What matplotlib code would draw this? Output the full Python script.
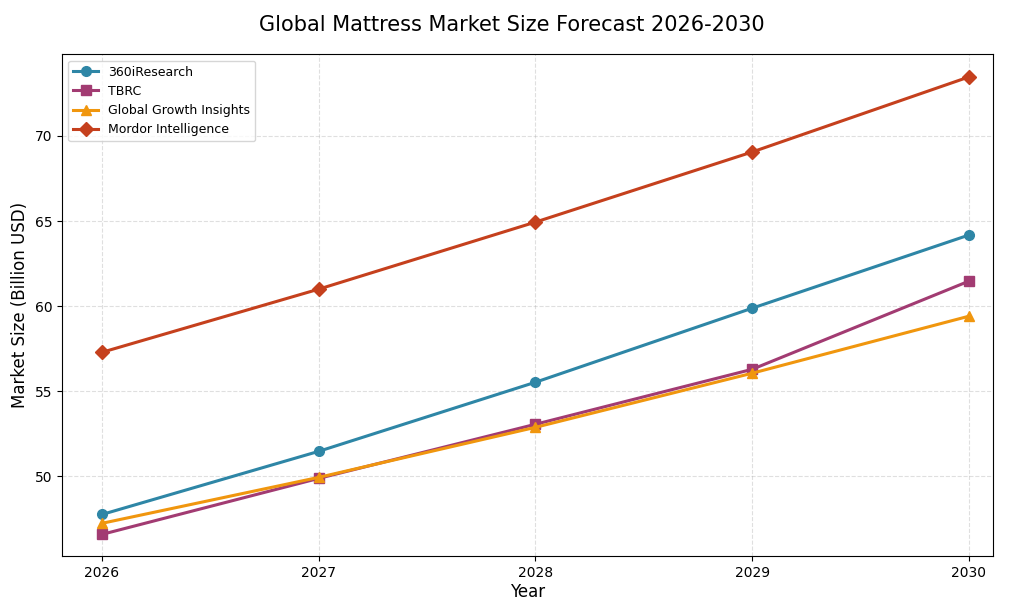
import matplotlib
matplotlib.use("Agg")
import matplotlib.pyplot as plt

years = [2026, 2027, 2028, 2029, 2030]
r360 = [47.76, 51.47, 55.53, 59.88, 64.18]
tbrc = [46.59, 49.88, 53.06, 56.29, 61.47]
ggi = [47.24, 49.94, 52.88, 56.06, 59.41]
mordor = [57.29, 61.0, 64.94, 69.06, 73.47]

fig = plt.figure(figsize=(10.24, 6.10), dpi=100)
ax = fig.add_axes([0.0605, 0.088, 0.909, 0.823])
ax.plot(years, r360, marker='o', color='#2e86a6', lw=2.2, ms=7, label='360iResearch')
ax.plot(years, tbrc, marker='s', color='#a23b72', lw=2.2, ms=7, label='TBRC')
ax.plot(years, ggi, marker='^', color='#f0960e', lw=2.2, ms=7, label='Global Growth Insights')
ax.plot(years, mordor, marker='D', color='#c5401d', lw=2.2, ms=7, label='Mordor Intelligence')
ax.set_xticks(years)
ax.set_xlim(2025.815, 2030.11)
ax.set_ylim(45.3, 74.8)
ax.set_yticks([50, 55, 60, 65, 70])
ax.grid(True, linestyle='--', alpha=0.4)
ax.set_xlabel('Year', fontsize=12, labelpad=2)
ax.set_ylabel('Market Size (Billion USD)', fontsize=12)
ax.tick_params(labelsize=10)
fig.suptitle('Global Mattress Market Size Forecast 2026-2030', fontsize=15, y=0.975)
ax.legend(loc='upper left', fontsize=9)
fig.savefig('out.png')
